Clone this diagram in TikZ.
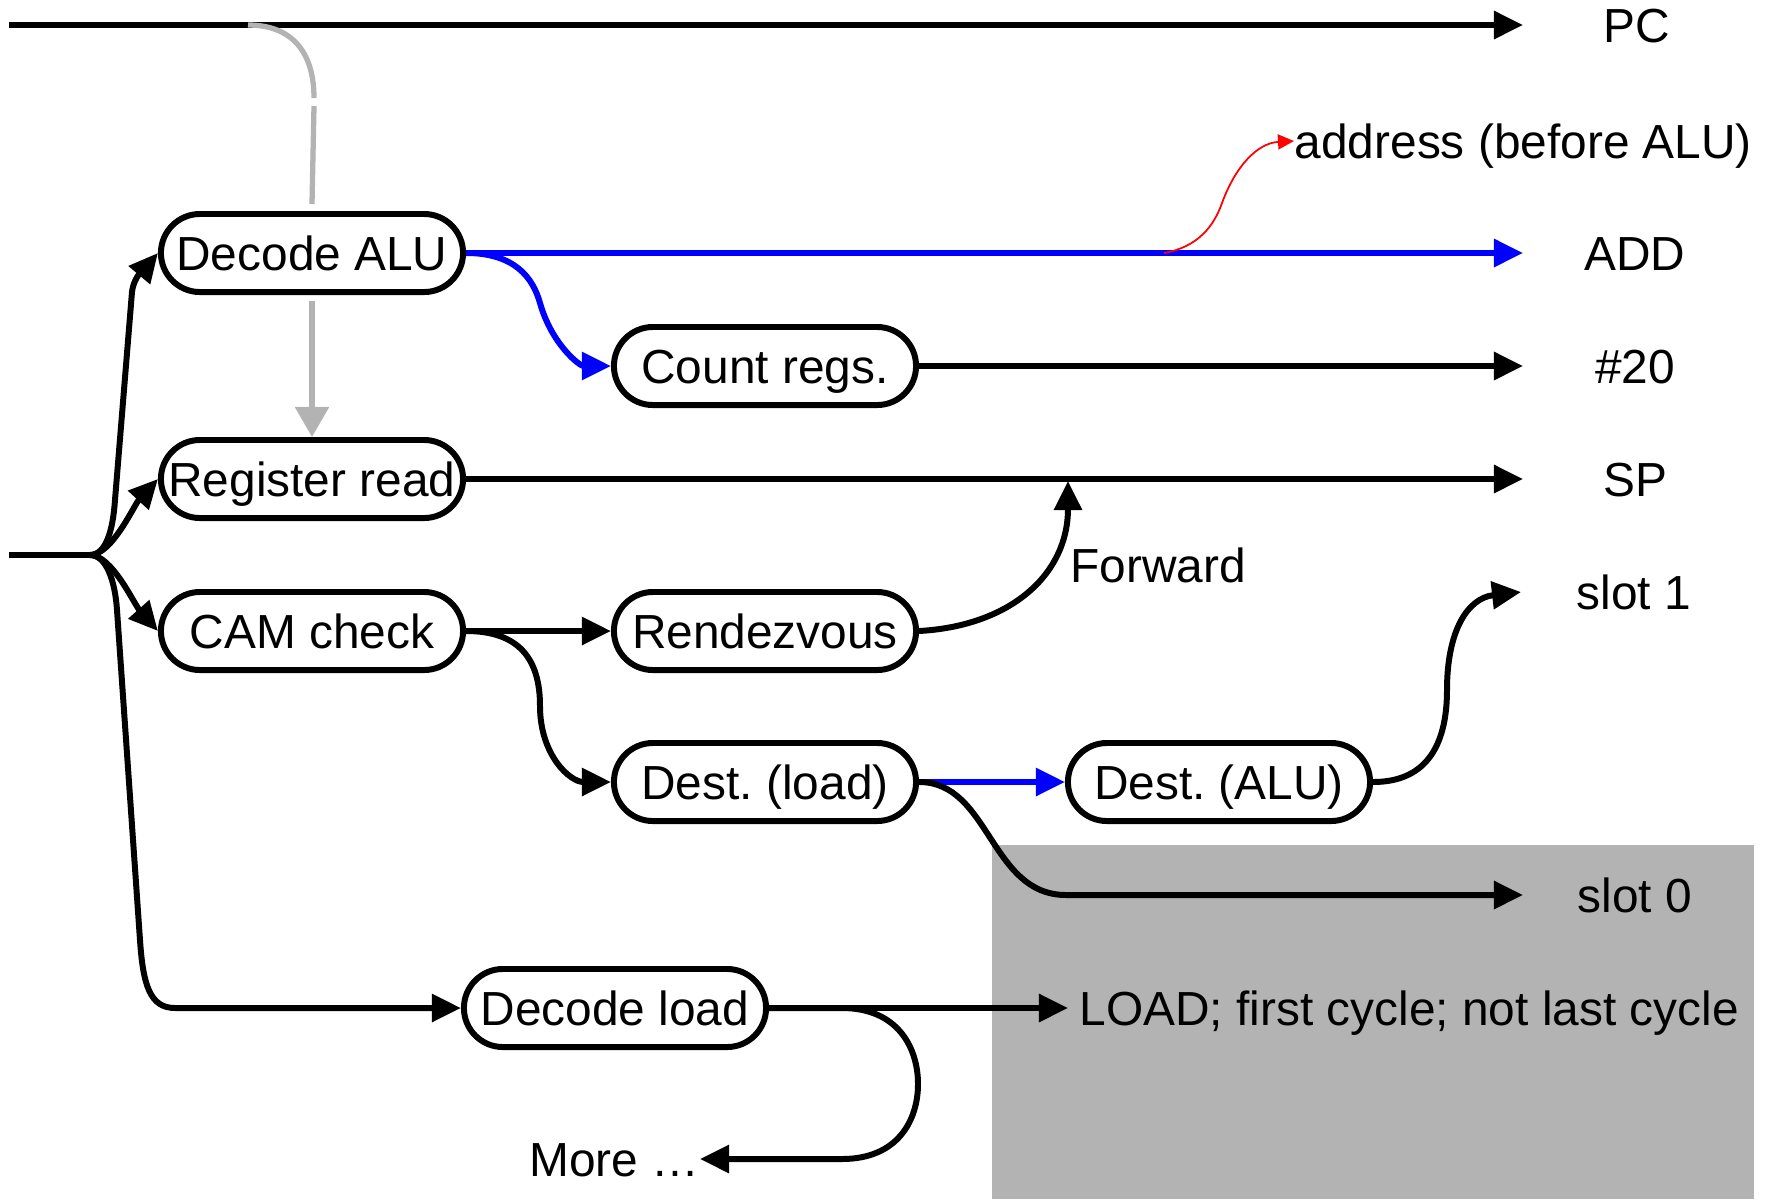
\documentclass[tikz,border=0pt]{standalone}
\usepackage{fontspec}
\setmainfont{Liberation Sans}
\usetikzlibrary{arrows.meta}
\definecolor{flowblue}{RGB}{0,0,255}
\definecolor{ctrlgray}{RGB}{179,179,179}
\definecolor{boxgray}{RGB}{179,179,179}
\frenchspacing
\begin{document}
\begin{tikzpicture}[x=0.01cm,y=-0.01cm,
  font=\fontsize{13.6}{16}\selectfont,
  stage/.style={draw, line width=1.7pt, rounded corners=0.39cm,
    minimum width=3.02cm, minimum height=0.78cm, inner sep=0pt, fill=white,
    text height=0.345cm, text depth=0pt},
  tag/.style={inner sep=0pt, text height=0.345cm, text depth=0pt},
  tip/.style={-{Triangle[length=0.29cm,width=0.27cm]}},
  wire/.style={line width=1.7pt, tip},
  plain/.style={line width=1.7pt},
  bluewire/.style={wire, draw=flowblue},
  redwire/.style={draw=red, line width=0.5pt, -{Triangle[length=0.16cm,width=0.15cm]}},
  graywire/.style={draw=ctrlgray, line width=1.5pt}
]
\useasboundingbox (0,0) rectangle (1772,1199);
\fill[white] (0,0) rectangle (1772,1199);

% shaded region behind the load outputs
\fill[boxgray] (992,845) rectangle (1754,1199);

% pipeline stages
\node[stage] (dalu)  at (312,253)  {Decode ALU};
\node[stage] (rread) at (312,479)  {Register read};
\node[stage] (cam)   at (312,631)  {CAM check};
\node[stage] (cnt)   at (765,366)  {Count regs.};
\node[stage] (rdv)   at (765,631)  {Rendezvous};
\node[stage] (dld)   at (765,782)  {Dest. (load)};
\node[stage] (dalu2) at (1219,782) {Dest. (ALU)};
\node[stage] (decld) at (615,1008) {Decode load};

% output labels
\node[tag] (lpc)  at (1637,25)  {PC};
\node[tag] (ladd) at (1635,253) {ADD};
\node[tag] (l20)  at (1635,366) {\#20};
\node[tag] (lsp)  at (1635,479) {SP};
\node[tag] (ls1)  at (1634,592) {slot 1};
\node[tag] (ls0)  at (1635,895) {slot 0};
\node[tag, anchor=west] (laddr) at (1294,141) {address (before ALU)};
\node[tag, anchor=west] (lfwd)  at (1070,565) {Forward};
\node[tag, anchor=west] (lload) at (1079,1008) {LOAD; first cycle; not last cycle};
\node[tag, anchor=east] (lmore) at (700,1159) {More …};

% free ends
\coordinate (pcstart) at (9,25);
\coordinate (pcend)   at (1523,25);
\coordinate (insrc)   at (9,555);
\coordinate (fork)    at (90,555);
\coordinate (addend)  at (1523,253);
\coordinate (cntend)  at (1523,366);
\coordinate (spend)   at (1523,479);
\coordinate (s1end)   at (1521,592);
\coordinate (s0end)   at (1523,895);
\coordinate (fwdtip)  at (1068,481);
\coordinate (addrtap) at (1164,253);
\coordinate (loadend) at (1068,1008);

% program counter
\draw[wire] (pcstart) -- (pcend);
\draw[graywire] (248,25) .. controls (292,25) and (314,52) .. (314,98);
\draw[graywire] (314,106) -- ([yshift=0.07cm]dalu.north);
\draw[graywire, -{Triangle[length=0.3cm,width=0.33cm]}] ([yshift=-0.06cm]dalu.south) -- (rread.north);

% fan-out from the instruction input
\draw[plain] (insrc) -- (fork);
\draw[wire] (fork) .. controls (106,555) and (113,530) .. (115,500)
  -- (132,292) .. controls (134,275) and (147,266) .. (dalu.west);
\draw[wire] (fork) .. controls (112,555) and (134,505) .. (rread.west);
\draw[wire] (fork) .. controls (112,555) and (134,604) .. (cam.west);
\draw[wire] (fork) .. controls (106,555) and (115,580) .. (117,610)
  -- (140,940) .. controls (143,985) and (150,1008) .. (175,1008) -- (decld.west);

% Decode ALU outputs
\draw[bluewire] (dalu.east) -- (addend);
\draw[bluewire] (dalu.east) .. controls (515,253) and (533,278) .. (540,303)
  .. controls (552,345) and (580,366) .. (cnt.west);
\draw[redwire] (addrtap) .. controls (1198,247) and (1214,226) .. (1222,203)
  .. controls (1236,165) and (1258,143) .. (laddr.west);

% register path
\draw[wire] (cnt.east) -- (cntend);
\draw[wire] (rread.east) -- (spend);

% CAM check outputs
\draw[wire] (cam.east) -- (rdv.west);
\draw[wire] (cam.east) .. controls (520,631) and (540,660) .. (540,706)
  .. controls (540,755) and (570,782) .. (dld.west);
\draw[wire] (rdv.east) .. controls (1010,626) and (1068,575) .. (fwdtip);

% destination handling
\draw[bluewire] (dld.east) -- (dalu2.west);
\draw[wire] (dld.east) .. controls (990,782) and (990,895) .. (1066,895) -- (s0end);
\draw[wire] (dalu2.east) .. controls (1430,782) and (1447,740) .. (1447,690)
  .. controls (1447,630) and (1468,598) .. (s1end);

% load decode outputs
\draw[wire] (decld.east) -- (loadend);
\draw[wire] (decld.east) -- (842,1008) .. controls (898,1008) and (918,1048) .. (918,1084)
  .. controls (918,1120) and (898,1159) .. (842,1159) -- (lmore.east);
\end{tikzpicture}
\end{document}
